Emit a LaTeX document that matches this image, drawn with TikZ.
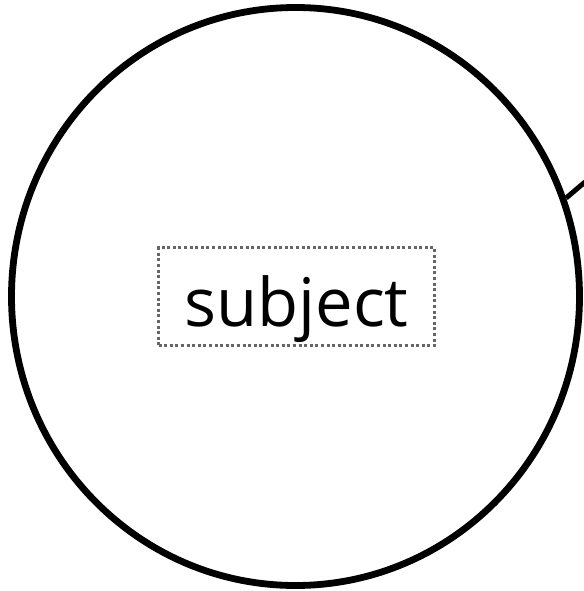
\documentclass[tikz,border=0pt]{standalone}
\usepackage{fontspec}
\newfontfamily\subjfont{Open Sans}
\usetikzlibrary{shapes.geometric}
\definecolor{dotgray}{HTML}{666666}

\begin{document}
\begin{tikzpicture}[x=1pt,y=-1pt,
  c/.style={draw,line width=6.8pt,ellipse,minimum width=568pt,minimum height=578pt,inner sep=0pt},
  lbl/.style={draw=dotgray,line width=3pt,dash pattern=on 3pt off 2.6pt,minimum width=276pt,minimum height=98pt,inner sep=0pt,
    text height=59pt,text depth=0pt,font=\subjfont\fontsize{67}{70}\selectfont}]
  \useasboundingbox (0,0) rectangle (583,591);
  \node[c](sc) at (295.5,296.5){};
  \node[lbl](s) at (296.5,296.5){subject};
  \coordinate (e) at (585,182);
  \draw[line width=5pt](sc.20)--(e);
\end{tikzpicture}
\end{document}
